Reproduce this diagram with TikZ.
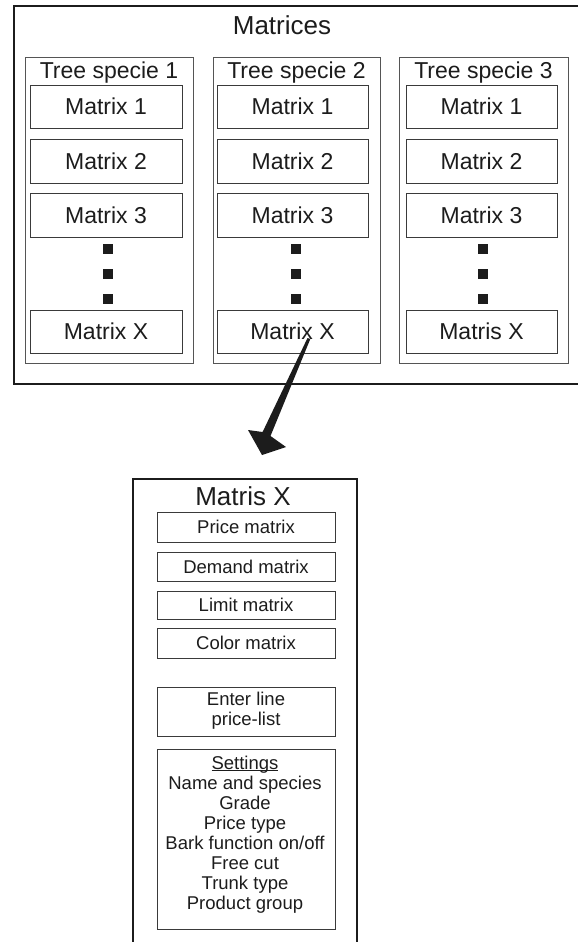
\documentclass[tikz,border=0pt]{standalone}
\usepackage{fontspec}
\setmainfont{Liberation Sans}
\definecolor{ink}{HTML}{1C1C1C}
\definecolor{framegray}{HTML}{3A3A3A}
\definecolor{colgray}{HTML}{555555}
\tikzset{
  bigfont/.style={font=\fontsize{23}{23}\selectfont, text=ink},
  titlefont/.style={font=\fontsize{26}{26}\selectfont, text=ink},
  smallfont/.style={font=\fontsize{18.5}{20}\selectfont, text=ink},
  outerframe/.style={draw=ink, line width=2.5pt, inner sep=0pt},
  column/.style={draw=colgray, line width=0.9pt, inner sep=0pt, minimum height=306pt},
  cell/.style={draw=framegray, line width=0.9pt, inner sep=0pt, minimum width=152pt,
    bigfont, text height=16.5pt, text depth=0pt},
  caption/.style={bigfont, inner sep=0pt, text height=16.5pt, text depth=0pt},
  dot/.style={fill=ink, minimum size=10pt, inner sep=0pt},
  smallbox/.style={draw=framegray, line width=0.9pt, inner sep=0pt, minimum width=178pt,
    smallfont, text height=13.2pt, text depth=0pt},
}
\begin{document}
\begin{tikzpicture}[x=1pt, y=-1pt]
  \useasboundingbox (0,0) rectangle (578,942);
  \clip (0,0) rectangle (578,942);

  % outer frame holding all species (runs past the right edge)
  \node[outerframe, minimum width=600pt, minimum height=378pt] (matrices) at (314,195) {};
  \node[titlefont, inner sep=0pt, text height=18.6pt, text depth=0pt] (mtitle) at (282,25) {Matrices};

  % species columns
  \node[column, minimum width=168pt] (col1) at (109,210) {};
  \node[column, minimum width=167pt] (col2) at (296.5,210) {};
  \node[column, minimum width=169pt] (col3) at (483.5,210) {};
  \node[caption] (t1) at (109,70.5) {Tree specie 1};
  \node[caption] (t2) at (296.5,70.5) {Tree specie 2};
  \node[caption] (t3) at (483.5,70.5) {Tree specie 3};

  % column 1
  \node[cell, minimum height=43pt] (a1) at (106,106.5) {Matrix 1};
  \node[cell, minimum height=44pt] (a2) at (106,161) {Matrix 2};
  \node[cell, minimum height=44pt] (a3) at (106,215) {Matrix 3};
  \node[cell, minimum height=43pt] (ax) at (106,331.5) {Matrix X};
  % column 2
  \node[cell, minimum height=43pt, minimum width=151pt] (b1) at (292.5,106.5) {Matrix 1};
  \node[cell, minimum height=44pt, minimum width=151pt] (b2) at (292.5,161) {Matrix 2};
  \node[cell, minimum height=44pt, minimum width=151pt] (b3) at (292.5,215) {Matrix 3};
  \node[cell, minimum height=43pt, minimum width=151pt] (bx) at (292.5,331.5) {Matrix X};
  % column 3
  \node[cell, minimum height=43pt, minimum width=151pt] (c1) at (481.5,106.5) {Matrix 1};
  \node[cell, minimum height=44pt, minimum width=151pt] (c2) at (481.5,161) {Matrix 2};
  \node[cell, minimum height=44pt, minimum width=151pt] (c3) at (481.5,215) {Matrix 3};
  \node[cell, minimum height=43pt, minimum width=151pt] (cx) at (481.5,331.5) {Matris X};

  % ellipsis squares
  \foreach \cx/\nm in {108/a, 296/b, 483/c}
    \foreach \cy/\k in {249/1, 274/2, 299/3}
      \node[dot] (\nm dot\k) at (\cx,\cy) {};

  % detail frame for one matrix (runs past the bottom edge)
  \node[outerframe, minimum width=224pt, minimum height=520pt] (detail) at (245,739) {};
  \node[titlefont, inner sep=0pt, text height=18.6pt, text depth=0pt] (dtitle) at (243,496) {Matris X};

  \node[smallbox, minimum height=30pt] (price) at (246,527) {Price matrix};
  \node[smallbox, minimum height=29pt] (demand) at (246,566.5) {Demand matrix};
  \node[smallbox, minimum height=28pt] (limit) at (246,605) {Limit matrix};
  \node[smallbox, minimum height=30pt] (color) at (246,643) {Color matrix};
  \node[smallbox, minimum height=49pt] (enter) at (246,711.5) {};
  \node[smallfont, align=center, inner sep=0pt] (entertext) at (246,711) {Enter line\\price-list};
  \node[smallbox, minimum height=180pt] (settings) at (246,839) {};
  \node[smallfont, align=center, inner sep=0pt] (settingstext) at (245,841)
    {\underline{\smash{Settings}}\\Name and species\\Grade\\Price type\\Bark function on/off\\Free cut\\Trunk type\\Product group};

  % tapered arrow from the Matrix X cell to the detail frame
  \coordinate (tail) at (309,338.5);
  \coordinate (tip) at (262,455);
  \fill[ink] (307.5,338) -- (tail) -- (310.3,339) -- (270.5,436) -- (286,447) -- (tip)
    -- (248,430) -- (262.6,432) -- cycle;
\end{tikzpicture}
\end{document}
